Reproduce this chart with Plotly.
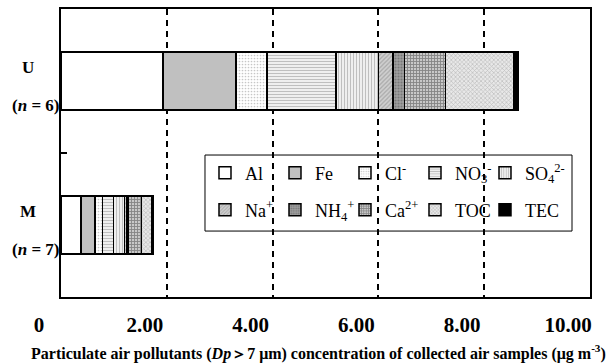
import plotly.graph_objects as go

# ---- data ----
sites = ["U", "M"]
site_n = [6, 7]
species = ["Al", "Fe", "Cl-", "NO3-", "SO42-", "Na+", "NH4+", "Ca2+", "TOC", "TEC"]
species_labels = ["Al", "Fe", "Cl<sup>-</sup>", "NO<sub>3</sub><sup>-</sup>",
                  "SO<sub>4</sub><sup>2-</sup>", "Na<sup>+</sup>", "NH<sub>4</sub><sup>+</sup>",
                  "Ca<sup>2+</sup>", "TOC", "TEC"]
u_values = [1.93, 1.38, 0.58, 1.31, 0.80, 0.28, 0.21, 0.78, 1.28, 0.09]
m_values = [0.38, 0.26, 0.14, 0.21, 0.21, 0.04, 0.03, 0.25, 0.19, 0.04]
x_ticks = [0, 2, 4, 6, 8, 10]
x_tick_labels = ["0", "2.00", "4.00", "6.00", "8.00", "10.00"]
x_title = "Particulate air pollutants (<i>Dp</i>＞7 μm) concentration of collected air samples (μg m<sup>-3</sup>)"

# ---- styles (bgcolor, pattern shape, fgcolor, size, solidity) ----
styles = [
    ("white", "", "black", 6, 0.3),
    ("#c0c0c0", "", "black", 6, 0.3),
    ("white", ".", "#909090", 3, 0.25),
    ("white", "-", "#808080", 3, 0.5),
    ("white", "|", "#808080", 3, 0.5),
    ("#d0d0d0", "/", "#808080", 3, 0.4),
    ("#a0a0a0", ".", "#505050", 3, 0.4),
    ("#c8c8c8", "+", "#404040", 3, 0.5),
    ("#e8e8e8", "x", "#909090", 3, 0.4),
    ("black", "", "black", 6, 0.3),
]

SERIF = "Liberation Serif, Times New Roman, serif"

fig = go.Figure()
for i, name in enumerate(species):
    bg, shp, fg, sz, sol = styles[i]
    fig.add_trace(go.Bar(
        y=sites,
        x=[u_values[i], m_values[i]],
        orientation="h",
        name=species_labels[i],
        legend="legend" if i < 5 else "legend2",
        legendwidth=60 if i in (4, 9) else None,
        marker=dict(
            color=bg,
            line=dict(color="black", width=1.5),
            pattern=dict(shape=shp, fgcolor=fg, bgcolor=bg, size=sz, solidity=sol),
        ),
    ))

for s, n in zip(sites, site_n):
    fig.add_annotation(x=0, xref="x", xanchor="center", xshift=-33,
                       y=s, yref="y", yanchor="middle", yshift=14,
                       text=f"<b>{s}</b>", showarrow=False,
                       font=dict(family=SERIF, size=17, color="black"))
    fig.add_annotation(x=0, xref="x", xanchor="right", xshift=1,
                       y=s, yref="y", yanchor="middle", yshift=-24,
                       text=f"<b>(<i>n</i> = {n})</b>", showarrow=False,
                       font=dict(family=SERIF, size=17, color="black"))

# axis title (placed as annotation so it can sit slightly left of centre, as in the original)
fig.add_annotation(x=0.486, xref="paper", xanchor="center",
                   y=-0.191, yref="paper", yanchor="middle",
                   text=f"<b>{x_title}</b>", showarrow=False,
                   font=dict(family=SERIF, size=16, color="black"))

# legend frame
fig.add_shape(type="rect", xref="paper", yref="paper",
              x0=0.2722, x1=0.966, y0=0.229, y1=0.493,
              line=dict(color="black", width=1), fillcolor="rgba(0,0,0,0)")

leg_common = dict(
    orientation="h", xanchor="left", yanchor="middle", x=0.2722,
    bgcolor="rgba(0,0,0,0)", borderwidth=0,
    font=dict(family=SERIF, size=18, color="black"),
    entrywidth=25, entrywidthmode="pixels", traceorder="normal",
)

fig.update_layout(
    width=610, height=363,
    margin=dict(l=61, r=20, t=9, b=66, autoexpand=False),
    barmode="stack",
    bargap=0.6,
    plot_bgcolor="white",
    paper_bgcolor="white",
    font=dict(family=SERIF, color="black"),
    legend=dict(leg_common, y=0.4306),
    legend2=dict(leg_common, y=0.302),
    xaxis=dict(
        range=[0, 10], automargin=False,
        tickvals=x_ticks, ticktext=[f"<b>{t}</b>" for t in x_tick_labels],
        tickfont=dict(family=SERIF, size=21, color="black"),
        ticklabelshift=-22, ticklabelstandoff=8,
        ticks="",
        showgrid=True, gridcolor="black", gridwidth=1.5, griddash="6px,5px",
        zeroline=False,
        showline=True, mirror=True, linecolor="black", linewidth=2,
    ),
    yaxis=dict(
        categoryorder="array", categoryarray=["M", "U"],
        range=[-0.5, 1.5], automargin=False,
        showticklabels=False,
        ticks="inside", tickson="boundaries", ticklen=6, tickcolor="black", tickwidth=2,
        showgrid=False, zeroline=False,
        showline=True, mirror=True, linecolor="black", linewidth=2,
    ),
)

fig.write_html("out.html",
               config={"displayModeBar": False},
               post_script="document.body.style.margin='0';document.body.style.overflow='hidden';")
